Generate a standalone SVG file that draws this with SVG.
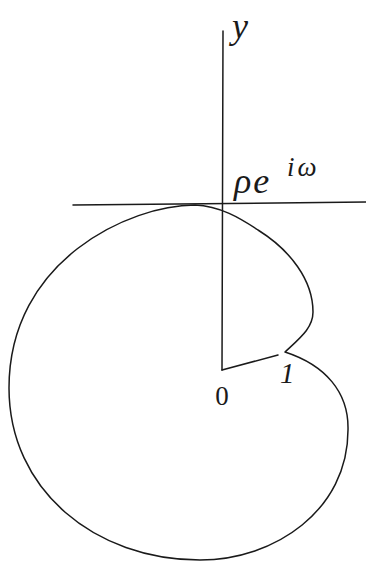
<svg xmlns="http://www.w3.org/2000/svg" width="366" height="562" viewBox="0 0 366 562">
<style>
.ln{fill:none;stroke:#1a1a1a;stroke-width:1.5;stroke-linecap:round;stroke-linejoin:round}
.lbl{font-family:"Liberation Serif","DejaVu Serif",serif;fill:#1a1a1a}
.it{font-style:italic}
</style>
<rect width="366" height="562" fill="#ffffff"/>
<g id="connectors">
<line id="tangent" class="ln" x1="73" y1="205" x2="366" y2="202"/>
<line id="y-axis" class="ln" x1="223" y1="31" x2="222" y2="370"/>
<line id="radius" class="ln" x1="222" y1="370" x2="278" y2="355"/>
</g>
<g id="curve">
<path class="ln" d="M285,352 C300,338 313,328 313,312 C313,280 290,250 258,230 C240,218 220,206 195,205 C130,205 9,260 9,388 C9,490 95,560 200,560 C275,560 348,510 348,430 C349,392 325,365 285,352"/>
</g>
<g id="label-y"><text class="lbl it" x="232" y="38" font-size="36">y</text></g>
<g id="label-peiw">
<text class="lbl it" x="234" y="193" font-size="36" letter-spacing="2">ρe</text>
<text class="lbl it" x="287" y="176" font-size="27" letter-spacing="3">iω</text>
</g>
<g id="label-0"><text class="lbl" x="222" y="405" font-size="27" text-anchor="middle">0</text></g>
<g id="label-1"><text class="lbl it" x="280" y="383" font-size="29">1</text></g>
</svg>
